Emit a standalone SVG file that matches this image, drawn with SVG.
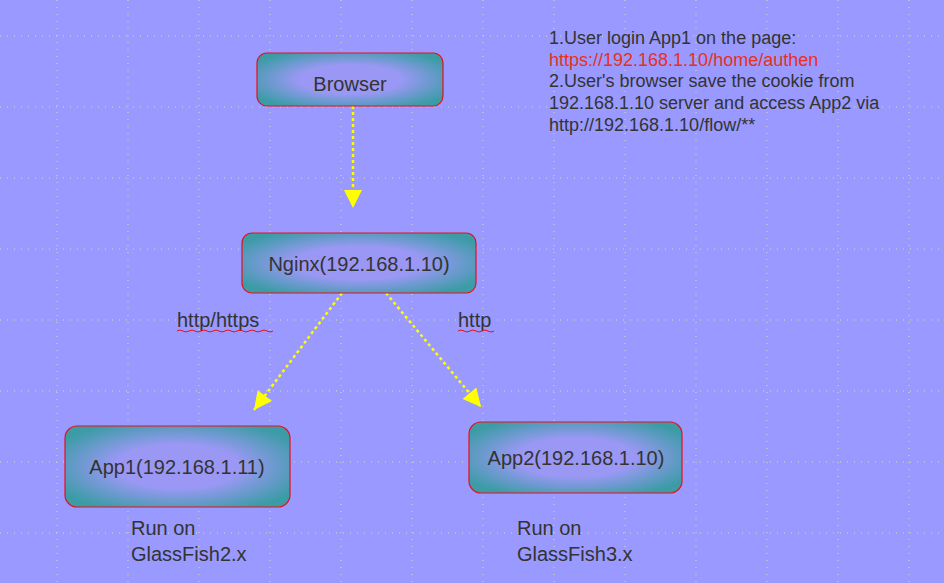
<svg xmlns="http://www.w3.org/2000/svg" width="944" height="583" viewBox="0 0 944 583">
<style>
.box{fill:url(#g);stroke:#e8101a;stroke-width:1.2}
.t{font-family:"Liberation Sans",Arial,sans-serif;fill:#333;font-size:20px}
.c{stroke:#ffff00;stroke-width:2.5;stroke-dasharray:3 3;fill:none}
.grid{stroke:#d8e0a0;stroke-width:1;stroke-dasharray:1 6}
</style>
<defs>
<radialGradient id="g" cx="0.5" cy="0.5" r="0.6">
<stop offset="0.45" stop-color="#9b98f5"/>
<stop offset="1" stop-color="#3b9ca6"/>
</radialGradient>
<marker id="a" viewBox="0 0 10 10" refX="9" refY="5" markerWidth="7" markerHeight="8" markerUnits="userSpaceOnUse" orient="auto">
<path d="M0,0L10,5L0,10z" fill="#ffff00"/>
</marker>
<marker id="b" viewBox="0 0 10 10" refX="10" refY="5" markerWidth="26" markerHeight="18" markerUnits="userSpaceOnUse" orient="auto">
<path d="M0,0L10,5L0,10z" fill="#ffff00"/>
</marker>
</defs>
<rect width="944" height="583" fill="#9999ff"/>
<g class="grid">
<path d="M57,0V583M128,0V583M199,0V583M270,0V583M341,0V583M412,0V583M483,0V583M554,0V583M625,0V583M696,0V583M767,0V583M838,0V583M909,0V583"/>
<path d="M0,36H944M0,107H944M0,178H944M0,249H944M0,320H944M0,391H944M0,462H944M0,533H944"/>
</g>
<g id="connectors">
<path class="c" d="M353,106V208" marker-end="url(#b)"/>
<path class="c" d="M342,293L254,410" marker-end="url(#b)"/>
<path class="c" d="M386,293L481,407" marker-end="url(#b)"/>
</g>
<g id="browser"><rect class="box" x="257" y="53" width="186" height="53" rx="10"/><text class="t" x="350" y="91" text-anchor="middle" font-size="34">Browser</text></g>
<g id="nginx"><rect class="box" x="242" y="233" width="234" height="60" rx="10"/><text class="t" x="359" y="271" text-anchor="middle">Nginx(192.168.1.10)</text></g>
<g id="app1"><rect class="box" x="65" y="426" width="225" height="81" rx="12"/><text class="t" x="177" y="474" text-anchor="middle">App1(192.168.1.11)</text></g>
<g id="app2"><rect class="box" x="469" y="422" width="213" height="71" rx="12"/><text class="t" x="576" y="465" text-anchor="middle">App2(192.168.1.10)</text></g>
<g class="t">
<text x="177" y="327">http/https</text>
<text x="458" y="327">http</text>
<path d="M177,331q3,-2 6,0t6,0t6,0t6,0t6,0t6,0t6,0t6,0t6,0t6,0t6,0t6,0t6,0t6,0t6,0t6,0M458,331q3,-2 6,0t6,0t6,0t6,0t6,0t6,0" stroke="#e8101a" fill="none" stroke-width="1"/>
<text x="131" y="535">Run on</text><text x="131" y="561">GlassFish2.x</text>
<text x="517" y="535">Run on</text><text x="517" y="561">GlassFish3.x</text>
<text x="549" y="44" font-size="18">1.User login App1 on the page:</text>
<text x="549" y="66" font-size="18" fill="#e8301a">https://192.168.1.10/home/authen</text>
<text x="549" y="87" font-size="18">2.User's browser save the cookie from</text>
<text x="549" y="109" font-size="18">192.168.1.10 server and access App2 via</text>
<text x="549" y="131" font-size="18">http://192.168.1.10/flow/**</text>
</g>
</svg>
